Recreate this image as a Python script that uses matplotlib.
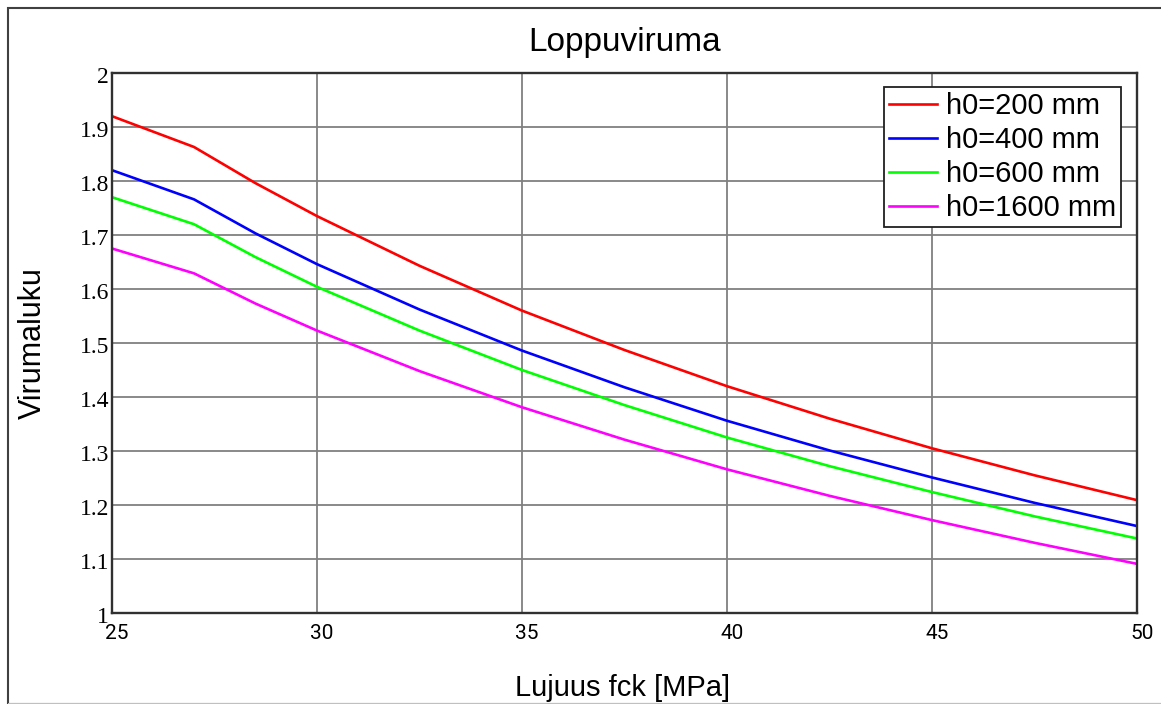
import matplotlib
matplotlib.use('Agg')
import matplotlib.pyplot as plt
import matplotlib.transforms as mtransforms
from matplotlib.patches import Rectangle

# strength fck [MPa]
fck = [25, 27, 28.5, 30, 32.5, 35, 37.5, 40, 42.5, 45, 47.5, 50]

# creep coefficient, one list per h0
phi_200 = [1.920, 1.863, 1.796, 1.735, 1.643, 1.560, 1.487, 1.420, 1.360, 1.305, 1.255, 1.209]
phi_400 = [1.820, 1.766, 1.703, 1.646, 1.562, 1.486, 1.418, 1.356, 1.301, 1.251, 1.204, 1.161]
phi_600 = [1.770, 1.720, 1.659, 1.604, 1.523, 1.450, 1.385, 1.325, 1.272, 1.224, 1.179, 1.138]
phi_1600 = [1.675, 1.629, 1.573, 1.523, 1.448, 1.381, 1.321, 1.266, 1.217, 1.172, 1.130, 1.091]

labels = ['h0=200 mm', 'h0=400 mm', 'h0=600 mm', 'h0=1600 mm']
colors = ['#ff0000', '#0000ff', '#00ff00', '#ff00ff']

W, H = 1161, 704
fig = plt.figure(figsize=(W / 100, H / 100), dpi=100)

# outer frame
fig.patches.append(Rectangle((8 / W, 0), 1.2, 1 - 8 / H, transform=fig.transFigure,
                             fill=False, edgecolor='#404040', linewidth=1.5))
fig.patches.append(Rectangle((8 / W, 0.5 / H), 1.2, 0, transform=fig.transFigure,
                             fill=False, edgecolor='#c0c0c0', linewidth=1.2))

ax = fig.add_axes([112 / W, 1 - 613 / H, (1137 - 112) / W, (613 - 73) / H])

for ys, lab, c in zip([phi_200, phi_400, phi_600, phi_1600], labels, colors):
  ax.plot(fck, ys, color=c, lw=1.9, label=lab)

ax.set_xlim(25, 50)
ax.set_ylim(1, 2)
ax.set_xticks([25, 30, 35, 40, 45, 50])
ax.set_yticks([1 + 0.1 * i for i in range(11)])
ax.set_yticklabels(['1', '1.1', '1.2', '1.3', '1.4', '1.5', '1.6', '1.7', '1.8', '1.9', '2'],
                   family='Liberation Serif', fontsize=17)
ax.set_xticklabels(['25', '30', '35', '40', '45', '50'], family='Roboto', fontsize=15)
ax.tick_params(length=0)
ax.tick_params(axis='y', pad=2)
ax.tick_params(axis='x', pad=8)
# x labels sit a little right of their gridlines
shift = mtransforms.ScaledTranslation(5 / 100, 0, fig.dpi_scale_trans)
for t in ax.get_xticklabels():
  t.set_transform(t.get_transform() + shift)
# y labels sit a little low
shift_y = mtransforms.ScaledTranslation(0, -2 / 100, fig.dpi_scale_trans)
for t in ax.get_yticklabels():
  t.set_transform(t.get_transform() + shift_y)

ax.grid(True, color='#808080', lw=1.3)
ax.set_axisbelow(True)
for s in ax.spines.values():
  s.set_color('#303030')
  s.set_linewidth(1.7)

fig.text(625 / W, 1 - 42 / H, 'Loppuviruma', ha='center', va='center',
         family='Liberation Sans', fontsize=24)
fig.text(623 / W, 1 - 688 / H, 'Lujuus fck [MPa]', ha='center', va='center',
         family='Liberation Sans', fontsize=21)
fig.text(33 / W, 1 - 343 / H, 'Virumaluku', ha='center', va='center', rotation=90,
         family='Liberation Sans', fontsize=22)

leg = ax.legend(loc='upper right', bbox_to_anchor=(1121 / W, 1 - 87 / H),
                bbox_transform=fig.transFigure, borderaxespad=0, fancybox=False,
                framealpha=1, edgecolor='#202020', prop={'family': 'Liberation Sans', 'size': 21},
                handlelength=1.65, handletextpad=0.3, labelspacing=0.2, borderpad=0.18)
leg.get_frame().set_linewidth(1.3)

fig.savefig('out.png', dpi=100)
